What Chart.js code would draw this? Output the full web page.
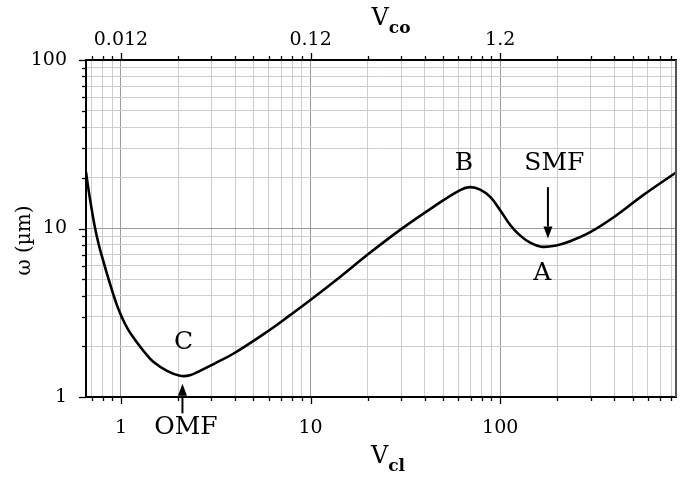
<!DOCTYPE html>
<html>
<head>
<meta charset="utf-8">
<script src="https://cdn.jsdelivr.net/npm/chart.js@4"></script>
<style>
  html, body { margin: 0; padding: 0; background: #fff; }
  #wrap { width: 699px; height: 479px; }
</style>
</head>
<body>
<div id="wrap"><canvas id="modeChart" width="699" height="479"></canvas></div>
<script>
// V_cl values and mode field radius omega (um)
const clValues = [0.654, 0.670, 0.695, 0.725, 0.765, 0.806, 0.854, 0.911, 0.952, 1.009, 1.089, 1.21, 1.339,
    1.48, 1.75, 2.05, 2.31, 2.61, 3.13, 3.91, 5.87, 7.80, 9.94, 14.3, 19.8, 30.3, 44.5, 61.5, 69.5, 78.4,
    88.6, 100, 113, 127.6, 144, 164.6, 195, 234, 298.5, 404.5, 568, 846];
const omegaValues = [21.7, 17.85, 13.76, 10.47, 7.96, 6.44, 5.14, 4.07, 3.51, 2.99, 2.52, 2.12, 1.83,
    1.62, 1.43, 1.336, 1.345, 1.43, 1.585, 1.806, 2.43, 3.06, 3.75, 5.16, 6.94, 9.98, 13.45, 16.9, 17.6, 17.0,
    15.4, 12.85, 10.5, 9.07, 8.24, 7.80, 7.91, 8.41, 9.51, 11.84, 15.78, 21.5];

const clRange = [0.654, 846];
const omegaRange = [1, 100];

// top axis: V_co labels at the V_cl decades
const clMajor = [1, 10, 100];
const coLabels = ['0.012', '0.12', '1.2'];

// text notes on the plot
const noteText = ['B', 'SMF', 'A', 'C', 'OMF'];
const noteCl = [64.4, 193, 166.6, 2.14, 2.2];
const noteOmega = [24.4, 24.4, 5.38, 2.12, 0.66];

// arrows: x position, tail and tip omega
const arrowCl = [178.6, 2.11];
const arrowFrom = [17.6, 0.80];
const arrowTo = [8.73, 1.2];

const SERIF = '"DejaVu Serif", serif';

function isPow10(v) {
    const l = Math.log10(v);
    return Math.abs(l - Math.round(l)) < 1e-9;
}

function logTicks(scale) {
    const ticks = [];
    const lo = Math.floor(Math.log10(scale.min));
    const hi = Math.ceil(Math.log10(scale.max));
    for (let d = lo; d <= hi; d++) {
        for (let m = 1; m <= 9; m++) {
            const v = parseFloat((m * Math.pow(10, d)).toPrecision(6));
            if (v >= scale.min - 1e-9 && v <= scale.max + 1e-9) {
                ticks.push({ value: v, major: m === 1 });
            }
        }
    }
    scale.ticks = ticks;
}

function gridColor(ctx) {
    if (!ctx.tick) return 'transparent';
    return isPow10(ctx.tick.value) ? '#9a9a9a' : '#cdcdcd';
}

const decor = {
    id: 'decor',
    afterDraw(chart) {
        const ctx = chart.ctx;
        const area = chart.chartArea;
        const xs = chart.scales.x;
        const ys = chart.scales.y;
        ctx.save();

        // tick marks on left, bottom, top
        ctx.strokeStyle = '#000';
        ctx.lineWidth = 1.3;
        xs.ticks.forEach(t => {
            const px = Math.round(xs.getPixelForValue(t.value)) + 0.5;
            const len = isPow10(t.value) ? 7 : 4;
            ctx.beginPath();
            ctx.moveTo(px, area.bottom);
            ctx.lineTo(px, area.bottom + len);
            ctx.moveTo(px, area.top);
            ctx.lineTo(px, area.top - len);
            ctx.stroke();
        });
        ys.ticks.forEach(t => {
            const py = Math.round(ys.getPixelForValue(t.value)) + 0.5;
            const len = isPow10(t.value) ? 7 : 4;
            ctx.beginPath();
            ctx.moveTo(area.left, py);
            ctx.lineTo(area.left - len, py);
            ctx.stroke();
        });

        // right frame
        ctx.strokeStyle = '#555';
        ctx.lineWidth = 2;
        ctx.beginPath();
        ctx.moveTo(area.right, area.top);
        ctx.lineTo(area.right, area.bottom);
        ctx.stroke();

        // axis titles with subscripts
        ctx.fillStyle = '#000';
        ctx.textBaseline = 'alphabetic';
        ctx.textAlign = 'left';
        function subTitle(main, sub, cx, baseY) {
            ctx.font = '24px ' + SERIF;
            const w1 = ctx.measureText(main).width;
            ctx.font = 'bold 17px ' + SERIF;
            const w2 = ctx.measureText(sub).width;
            const x0 = cx - (w1 + w2) / 2;
            ctx.font = '24px ' + SERIF;
            ctx.fillText(main, x0, baseY);
            ctx.font = 'bold 17px ' + SERIF;
            ctx.fillText(sub, x0 + w1, baseY + 8);
        }
        const cx = (area.left + area.right) / 2;
        subTitle('V', 'cl', cx + 7, area.bottom + 66);
        subTitle('V', 'co', cx + 10, area.top - 35);

        ctx.save();
        ctx.translate(25, (area.top + area.bottom) / 2 + 12);
        ctx.rotate(-Math.PI / 2);
        ctx.textAlign = 'center';
        ctx.textBaseline = 'middle';
        ctx.font = '20px ' + SERIF;
        ctx.fillText('\u03c9 (\u00b5m)', 0, 0);
        ctx.restore();

        // notes
        ctx.textAlign = 'center';
        ctx.textBaseline = 'middle';
        ctx.font = '25px ' + SERIF;
        noteText.forEach((s, i) => {
            ctx.fillText(s, xs.getPixelForValue(noteCl[i]), ys.getPixelForValue(noteOmega[i]));
        });

        // arrows
        ctx.strokeStyle = '#000';
        ctx.lineWidth = 2;
        arrowCl.forEach((v, i) => {
            const px = xs.getPixelForValue(v);
            const y0 = ys.getPixelForValue(arrowFrom[i]);
            const y1 = ys.getPixelForValue(arrowTo[i]);
            const dir = y1 > y0 ? 1 : -1;
            const head = 12;
            ctx.beginPath();
            ctx.moveTo(px, y0);
            ctx.lineTo(px, y1 - dir * head);
            ctx.stroke();
            ctx.beginPath();
            ctx.moveTo(px, y1);
            ctx.lineTo(px - 4.5, y1 - dir * head);
            ctx.lineTo(px + 4.5, y1 - dir * head);
            ctx.closePath();
            ctx.fill();
        });

        ctx.restore();
    }
};

const points = clValues.map((v, i) => ({ x: v, y: omegaValues[i] }));

new Chart(document.getElementById('modeChart').getContext('2d'), {
    type: 'line',
    data: {
        datasets: [{
            data: points,
            borderColor: '#000',
            borderWidth: 2.6,
            pointRadius: 0,
            fill: false,
            tension: 0.4
        }]
    },
    options: {
        responsive: false,
        animation: false,
        layout: { padding: { left: 0, right: 23, top: 0, bottom: 0 } },
        plugins: { legend: { display: false }, tooltip: { enabled: false } },
        scales: {
            x: {
                type: 'logarithmic',
                position: 'bottom',
                min: clRange[0],
                max: clRange[1],
                afterBuildTicks: logTicks,
                afterFit: s => { s.height = 82; },
                grid: { color: gridColor, lineWidth: 1, drawTicks: false },
                border: { color: '#000', width: 2 },
                ticks: {
                    autoSkip: false,
                    maxRotation: 0,
                    padding: 20,
                    color: '#000',
                    font: { family: SERIF, size: 19 },
                    callback: v => clMajor.includes(v) ? String(v) : ''
                }
            },
            xTop: {
                type: 'logarithmic',
                position: 'top',
                min: clRange[0],
                max: clRange[1],
                afterBuildTicks: logTicks,
                afterFit: s => { s.height = 60; },
                grid: { drawOnChartArea: false, drawTicks: false },
                border: { color: '#000', width: 2 },
                ticks: {
                    autoSkip: false,
                    maxRotation: 0,
                    padding: 9,
                    color: '#000',
                    font: { family: SERIF, size: 19 },
                    callback: v => {
                        const i = clMajor.indexOf(v);
                        return i >= 0 ? coLabels[i] : '';
                    }
                }
            },
            y: {
                type: 'logarithmic',
                position: 'left',
                min: omegaRange[0],
                max: omegaRange[1],
                afterBuildTicks: logTicks,
                afterFit: s => { s.width = 86; },
                grid: { color: gridColor, lineWidth: 1, drawTicks: false },
                border: { color: '#000', width: 2 },
                ticks: {
                    autoSkip: false,
                    padding: 19,
                    color: '#000',
                    font: { family: SERIF, size: 19 },
                    callback: v => isPow10(v) ? String(v) : ''
                }
            }
        }
    },
    plugins: [decor]
});
</script>
</body>
</html>
